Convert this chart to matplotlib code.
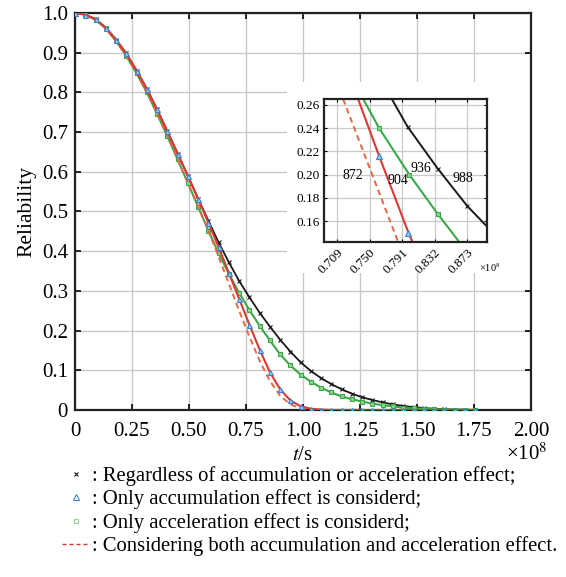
import numpy as np
import matplotlib
matplotlib.use("Agg")
import matplotlib.pyplot as plt
from matplotlib.lines import Line2D
from matplotlib.patches import Rectangle

plt.rcParams["font.family"] = ["Liberation Serif", "DejaVu Serif"]
plt.rcParams["mathtext.fontset"] = "stix"

# time grid (x 1e8 s), one sample per marker
t = np.arange(40) * 0.045

# regardless of accumulation or acceleration effect (black, x)
r_none = [1.0, 0.996, 0.984, 0.963, 0.933, 0.898, 0.855, 0.809, 0.757, 0.702,
          0.646, 0.590, 0.532, 0.477, 0.422, 0.372, 0.325, 0.284, 0.245, 0.210,
          0.177, 0.147, 0.120, 0.098, 0.080, 0.065, 0.052, 0.041, 0.032, 0.025,
          0.019, 0.014, 0.010, 0.007, 0.005, 0.003, 0.002, 0.001, 0.001, 0.0]
# only accumulation effect (red line, blue triangles)
r_accum = [1.0, 0.996, 0.984, 0.963, 0.933, 0.898, 0.855, 0.809, 0.757, 0.702,
           0.646, 0.590, 0.532, 0.472, 0.410, 0.345, 0.280, 0.215, 0.152, 0.095,
           0.052, 0.024, 0.009, 0.003, 0.001, 0.0, 0.0, 0.0, 0.0, 0.0,
           0.0, 0.0, 0.0, 0.0, 0.0, 0.0, 0.0, 0.0, 0.0, 0.0]
# only acceleration effect (green, squares)
r_accel = [1.0, 0.996, 0.983, 0.961, 0.929, 0.892, 0.848, 0.800, 0.746, 0.690,
           0.631, 0.572, 0.512, 0.452, 0.395, 0.343, 0.295, 0.252, 0.212, 0.175,
           0.140, 0.112, 0.089, 0.071, 0.056, 0.044, 0.034, 0.027, 0.021, 0.016,
           0.012, 0.009, 0.006, 0.004, 0.003, 0.002, 0.001, 0.001, 0.0, 0.0]
# both effects (red dashed)
r_both = [1.0, 0.996, 0.983, 0.961, 0.929, 0.892, 0.848, 0.800, 0.746, 0.690,
          0.631, 0.572, 0.513, 0.452, 0.386, 0.318, 0.250, 0.185, 0.124, 0.073,
          0.036, 0.014, 0.004, 0.001, 0.0, 0.0, 0.0, 0.0, 0.0, 0.0,
          0.0, 0.0, 0.0, 0.0, 0.0, 0.0, 0.0, 0.0, 0.0, 0.0]

# inset (zoomed region)
ins_x_none = [0.778, 0.798, 0.836, 0.873, 0.897]
ins_y_none = [0.265, 0.241, 0.205, 0.173, 0.156]
ins_x_accel = [0.742, 0.762, 0.800, 0.836, 0.863]
ins_y_accel = [0.265, 0.240, 0.200, 0.166, 0.142]
ins_x_accum = [0.7355, 0.762, 0.799, 0.804]
ins_y_accum = [0.265, 0.216, 0.150, 0.142]
ins_x_both = [0.7166, 0.786]
ins_y_both = [0.265, 0.142]
ins_labels = ["872", "904", "936", "988"]
ins_label_x = [0.729, 0.786, 0.815, 0.867]
ins_label_y = [0.199, 0.195, 0.205, 0.197]

legend_labels = [": Regardless of accumulation or acceleration effect;",
                 ": Only accumulation effect is considerd;",
                 ": Only acceleration effect is considerd;",
                 ": Considering both accumulation and acceleration effect."]

BLACK = "#1a1a1a"
RED = "#d93a33"
DRED = "#e06a45"
GREEN = "#3aa848"
BLUE = "#3f80d0"

fig = plt.figure(figsize=(5.66, 5.77), dpi=100)
ax = fig.add_axes([0.1325, 0.2895, 0.8055, 0.688])

ax.plot(t, r_none, color=BLACK, lw=1.3, marker="x", ms=3.2, mew=0.8, zorder=3)
ax.plot(t, r_accel, color=GREEN, lw=1.5, marker="s", ms=3.2, mfc="#8fd090",
        mec=GREEN, mew=0.8, zorder=3)
ax.plot(t, r_both, color=DRED, lw=1.4, ls=(0, (3, 2)), zorder=3)
ax.plot(t, r_accum, color=RED, lw=1.5, marker="^", ms=3.6, mfc="#9cc4ee",
        mec=BLUE, mew=0.8, zorder=4)

ax.set_xlim(0, 2.0)
ax.set_ylim(0, 1.0)
ax.set_xticks(np.arange(0, 2.01, 0.25))
ax.set_xticklabels(["0", "0.25", "0.50", "0.75", "1.00", "1.25", "1.50", "1.75", "2.00"])
ax.set_yticks(np.arange(0, 1.01, 0.1))
ax.set_yticklabels(["0"] + [f"{v:.1f}" for v in np.arange(0.1, 1.01, 0.1)])
ax.tick_params(direction="in", top=True, right=True, length=4, width=1.2,
               labelsize=15, pad=9)
ax.tick_params(axis="y", pad=5)
ax.grid(True, color="#c9c9c9", lw=1.0)
for s in ax.spines.values():
    s.set_linewidth(1.6)
    s.set_color("#222222")

ax.set_ylabel("Reliability", fontsize=15.5, labelpad=4)
ax.set_xlabel("$t$/s", fontsize=15, labelpad=3)
ax.text(1.037, -0.11, "×10$^8$", transform=ax.transAxes, fontsize=15,
        ha="right", va="center")

# white area behind the inset
ax.add_patch(Rectangle((0.93, 0.345), 1.07, 0.48, facecolor="white",
                       edgecolor="none", zorder=1.8))

# inset
axi = fig.add_axes([0.5725, 0.5806, 0.288, 0.2478])
axi.plot(ins_x_none, ins_y_none, color=BLACK, lw=1.4, marker="x", ms=3.5,
         mew=0.8, markevery=[1, 2, 3])
axi.plot(ins_x_accel, ins_y_accel, color=GREEN, lw=1.5, marker="s", ms=3.5,
         mfc="#8fd090", mec=GREEN, mew=0.8, markevery=[1, 2, 3])
axi.plot(ins_x_both, ins_y_both, color=DRED, lw=1.4, ls=(0, (3, 2)))
axi.plot(ins_x_accum, ins_y_accum, color=RED, lw=1.5, marker="^", ms=4,
         mfc="#9cc4ee", mec=BLUE, mew=0.8, markevery=[1, 2])
for lab, lx, ly in zip(ins_labels, ins_label_x, ins_label_y):
    axi.text(lx, ly, lab, fontsize=10, ha="center", va="center")

axi.set_xlim(0.6926, 0.898)
axi.set_ylim(0.142, 0.265)
axi.set_xticks([0.709, 0.750, 0.791, 0.832, 0.873])
axi.set_xticklabels(["0.709", "0.750", "0.791", "0.832", "0.873"], rotation=45,
                    ha="right", rotation_mode="anchor")
axi.set_yticks([0.16, 0.18, 0.20, 0.22, 0.24, 0.26])
axi.set_yticklabels(["0.16", "0.18", "0.20", "0.22", "0.24", "0.26"])
axi.tick_params(direction="in", top=True, right=True, length=2.5, width=0.8,
                labelsize=9.5, pad=3)
axi.grid(True, color="#c9c9c9", lw=0.9)
for s in axi.spines.values():
    s.set_linewidth(1.6)
    s.set_color("#222222")
axi.text(1.08, -0.18, "×10$^8$", transform=axi.transAxes, fontsize=7.5,
         ha="right", va="center")

# legend below the chart
handles = [
    Line2D([], [], ls="none", marker="x", color=BLACK, ms=3.5, mew=0.8),
    Line2D([], [], ls="none", marker="^", mfc="none", mec=BLUE, ms=4, mew=0.8),
    Line2D([], [], ls="none", marker="s", mfc="none", mec="#8fd090", ms=3.5, mew=0.8),
    Line2D([], [], color=RED, lw=1.0, ls=(0, (3, 2))),
]
fig.legend(handles, legend_labels, loc="upper left",
           bbox_to_anchor=(62 / 566, 1 - 466 / 577), frameon=False,
           fontsize=14.9, handlelength=1.35, handletextpad=0.1,
           labelspacing=0.17, borderpad=0, borderaxespad=0)

fig.savefig("out.png", dpi=100)
